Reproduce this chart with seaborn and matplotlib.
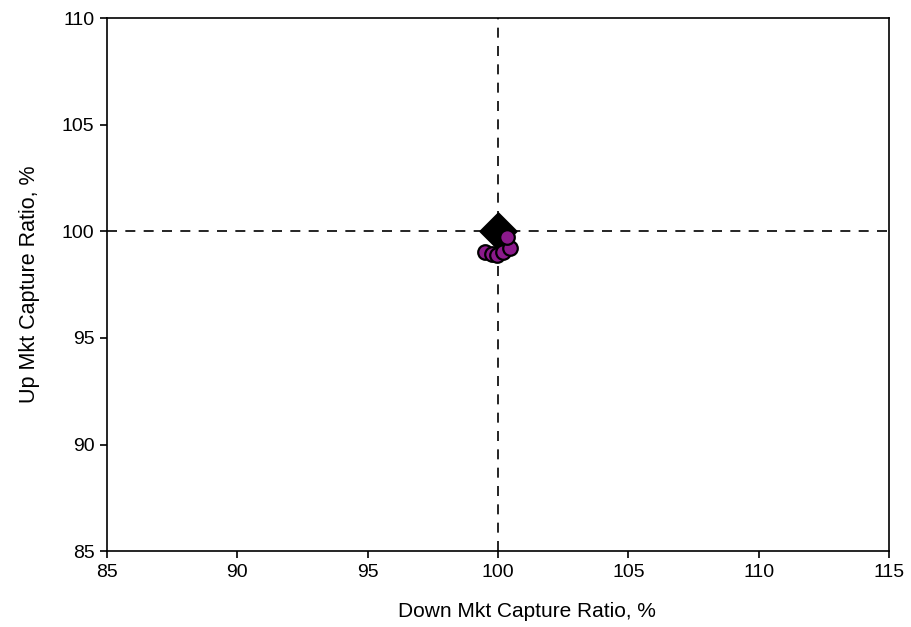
import numpy as np
import pandas as pd
import matplotlib
matplotlib.use("Agg")
import matplotlib.pyplot as plt
import seaborn as sns

# Fund points (down capture, up capture)
fund_down = [99.50, 99.76, 99.95, 100.19, 100.46, 100.33]
fund_up = [99.04, 98.96, 98.88, 99.04, 99.21, 99.74]

# Benchmark
bench_down = [100.0]
bench_up = [100.0]

x_ticks = [85, 90, 95, 100, 105, 110, 115]
y_ticks = [85, 90, 95, 100, 105, 110]

sns.set_style("white")
plt.rcParams["font.family"] = ["Liberation Sans", "DejaVu Sans"]

fig, ax = plt.subplots(figsize=(9.11, 6.27), dpi=100)
fig.subplots_adjust(left=0.1175, right=0.976, top=0.971, bottom=0.121)

ax.axvline(100, color="black", linestyle=(0, (6, 5)), linewidth=1.2, zorder=1)
ax.axhline(100, color="black", linestyle=(0, (6, 5)), linewidth=1.2, zorder=1)

bench = pd.DataFrame({"down": bench_down, "up": bench_up})
sns.scatterplot(data=bench, x="down", y="up", marker="D", s=340,
                color="black", edgecolor="black", ax=ax, zorder=3)

funds = pd.DataFrame({"down": fund_down, "up": fund_up})
sns.scatterplot(data=funds, x="down", y="up", marker="o", s=110,
                color="#8B1A8B", edgecolor="black", linewidth=1.6, ax=ax, zorder=4)

ax.set_xlim(85, 115)
ax.set_ylim(85, 110)
ax.set_xticks(x_ticks)
ax.set_yticks(y_ticks)
ax.tick_params(axis="both", labelsize=14, labelcolor="black", colors="black",
               direction="out", length=5, width=1.2,
               bottom=True, left=True, pad=4)
for s in ax.spines.values():
    s.set_color("black")
    s.set_linewidth(1.2)

ax.set_xlabel("Down Mkt Capture Ratio, %", fontsize=15, color="black")
ax.set_ylabel("Up Mkt Capture Ratio, %", fontsize=15.5, labelpad=16, color="black")
ax.xaxis.set_label_coords(0.537, -0.114)
ax.xaxis.label.set_verticalalignment("center")

fig.savefig("out.png", dpi=100)
